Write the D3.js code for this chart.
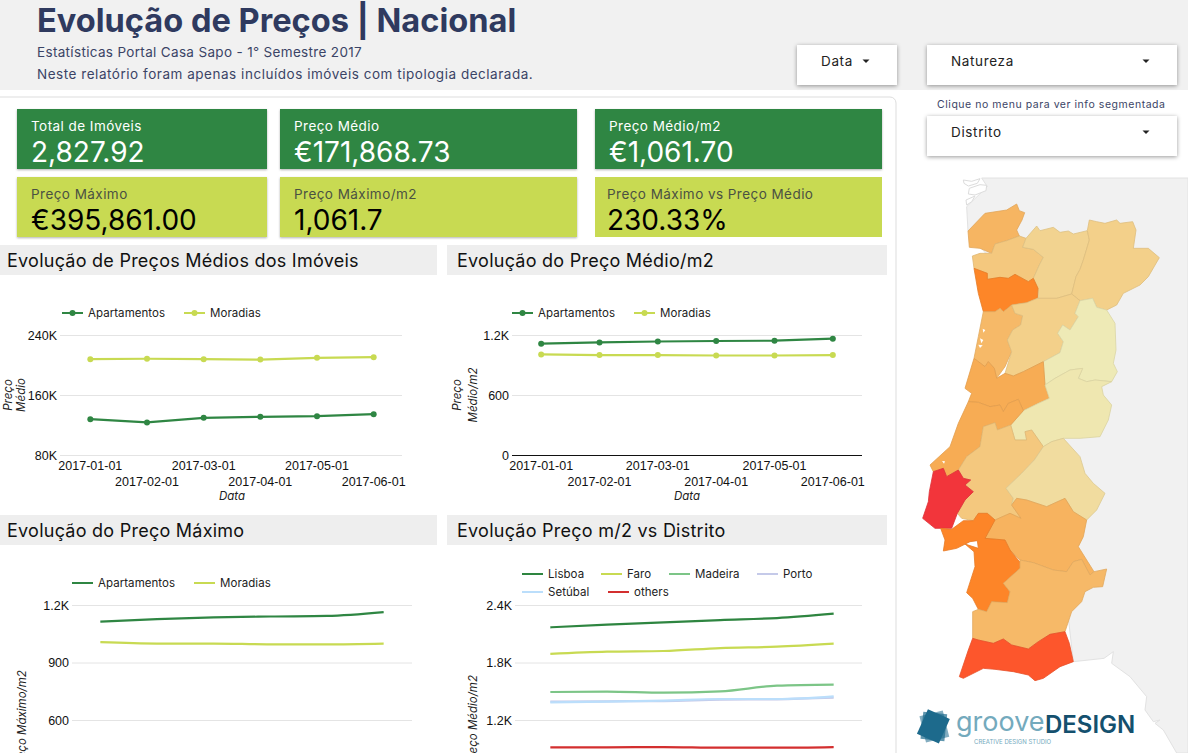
<!DOCTYPE html>
<html>
<head>
<meta charset="utf-8">
<script src="https://cdnjs.cloudflare.com/ajax/libs/d3/7.8.5/d3.min.js"></script>
<style>
  html, body { margin: 0; padding: 0; background: #fff; overflow: hidden; }
  svg { display: block; font-family: Inter, "Open Sans", sans-serif; }
  .tick line { stroke: #e4e4e4; }
  .tick text { font-size: 12.5px; fill: #111; }
  .legend text { font-size: 11.5px; letter-spacing: .05px; fill: #222; }
  .axis-title { font-size: 11.5px; font-style: italic; fill: #222; }
</style>
</head>
<body>
<script>
const width = 1188;
const height = 753;

const green = "#2f8643";
const lime = "#c8da52";

// chart data
const months = ["2017-01-01", "2017-02-01", "2017-03-01", "2017-04-01", "2017-05-01", "2017-06-01"];
const avgPriceApartments = [127800, 123400, 129600, 130900, 131800, 134500];
const avgPriceHouses = [207800, 208300, 207800, 207200, 209600, 210500];
const avgM2Apartments = [1113, 1126, 1135, 1140, 1143, 1163];
const avgM2Houses = [1006, 999, 999, 995, 995, 999];
const maxApartments = [1113, 1126, 1135, 1140, 1143, 1163];
const maxHouses = [1006, 999, 999, 995, 995, 999];
const lisboa = [2167, 2195, 2219, 2243, 2264, 2310];
const faro = [1889, 1913, 1920, 1951, 1965, 1997];
const madeira = [1492, 1496, 1485, 1499, 1558, 1569];
const porto = [1391, 1395, 1398, 1412, 1416, 1433];
const setubal = [1384, 1391, 1402, 1419, 1419, 1447];
const others = [915, 915, 918, 911, 911, 918];

// kpi cards
const kpiLabels = ["Total de Imóveis", "Preço Médio", "Preço Médio/m2", "Preço Máximo", "Preço Máximo/m2", "Preço Máximo vs Preço Médio"];
const kpiValues = ["2,827.92", "€171,868.73", "€1,061.70", "€395,861.00", "1,061.7", "230.33%"];

// district outlines, traced in map units (3 units = 1 screen pixel)
const districtNames = ["Viana do Castelo", "Braga", "Vila Real", "Bragança", "Porto", "Aveiro", "Viseu", "Guarda", "Coimbra", "Castelo Branco", "Leiria", "Santarém", "Portalegre", "Lisboa", "Évora", "Setúbal", "Beja", "Faro"];
const districtPrices = [995, 860, 770, 800, 1430, 965, 800, 570, 1065, 600, 1065, 860, 690, 2270, 1010, 1440, 965, 1990];
const districtOutlines = [
  [[204,183],[255,130],[320,120],[350,102],[358,122],[374,128],[366,150],[350,180],[358,198],[320,212],[285,222],[275,250],[240,235],[208,232]],
  [[217,258],[240,250],[275,250],[285,222],[320,212],[358,198],[378,205],[368,232],[400,238],[430,262],[418,285],[400,325],[385,335],[345,313],[325,325],[300,322],[262,328],[262,310],[222,295]],
  [[378,205],[410,168],[420,182],[460,172],[480,187],[505,183],[520,192],[562,182],[568,210],[550,270],[540,298],[528,320],[515,372],[470,385],[415,385],[414,355],[400,325],[418,285],[430,262],[400,238],[368,232]],
  [[562,182],[568,150],[590,155],[615,160],[650,150],[660,160],[698,155],[708,180],[700,235],[745,235],[778,263],[745,320],[720,345],[670,370],[650,405],[620,420],[590,412],[578,385],[540,392],[515,372],[528,320],[540,298],[550,270],[568,210]],
  [[222,295],[262,310],[262,328],[300,322],[325,325],[345,313],[385,335],[400,325],[414,355],[412,385],[380,398],[335,405],[310,425],[300,415],[285,425],[250,425],[235,370]],
  [[250,425],[285,425],[300,415],[310,425],[335,405],[345,430],[368,437],[362,465],[338,480],[322,510],[335,545],[315,590],[290,625],[283,595],[265,575],[255,590],[222,565],[235,500]],
  [[335,405],[380,398],[412,385],[470,385],[515,372],[540,392],[525,430],[535,440],[510,480],[488,465],[473,490],[490,515],[480,548],[430,575],[370,605],[340,618],[315,610],[335,545],[322,510],[338,480],[362,465],[368,437],[345,430]],
  [[540,392],[578,385],[590,412],[620,420],[645,460],[648,540],[640,580],[652,605],[635,635],[585,630],[560,635],[535,625],[548,595],[510,600],[465,625],[435,645],[430,575],[480,548],[490,515],[473,490],[488,465],[510,480],[535,440],[525,430]],
  [[222,565],[255,590],[265,575],[283,595],[290,625],[315,610],[340,618],[370,605],[430,575],[435,645],[448,685],[415,700],[370,722],[355,688],[325,700],[310,725],[300,705],[270,710],[235,697],[205,695],[215,670],[195,655]],
  [[435,645],[465,625],[510,600],[548,595],[535,625],[560,635],[585,630],[635,635],[605,650],[610,675],[635,705],[625,750],[600,800],[540,805],[490,805],[455,815],[430,830],[395,780],[375,785],[380,810],[345,810],[332,765],[370,722],[415,700],[448,685]],
  [[205,695],[235,697],[270,710],[300,705],[310,725],[325,700],[355,688],[370,722],[332,765],[292,780],[285,758],[250,770],[240,830],[200,860],[175,900],[140,920],[130,895],[100,905],[90,885],[150,830],[175,760]],
  [[175,900],[200,860],[240,830],[250,770],[285,758],[292,780],[332,765],[345,810],[380,810],[375,785],[395,780],[430,830],[403,870],[365,910],[318,955],[340,985],[335,1005],[363,1045],[330,1030],[285,1050],[262,1030],[235,1030],[220,1052],[185,1045],[172,1030],[195,990],[220,965],[195,945],[212,930],[190,925]],
  [[430,830],[455,815],[490,805],[540,860],[555,910],[580,940],[615,970],[590,1020],[560,1050],[520,1025],[495,985],[440,1010],[380,990],[350,985],[335,1005],[340,985],[318,955],[365,910],[403,870]],
  [[88,965],[100,905],[130,895],[140,920],[175,900],[190,925],[212,930],[195,945],[220,965],[195,990],[172,1030],[155,1075],[105,1075],[68,1045],[85,995]],
  [[285,1050],[330,1030],[363,1045],[335,1005],[350,985],[380,990],[440,1010],[495,985],[520,1025],[560,1050],[550,1100],[535,1130],[560,1170],[582,1205],[570,1215],[545,1168],[520,1175],[500,1205],[460,1200],[400,1178],[360,1170],[330,1140],[315,1110],[255,1105]],
  [[122,1075],[155,1078],[190,1052],[220,1052],[235,1030],[262,1030],[285,1050],[255,1105],[315,1110],[330,1140],[363,1180],[360,1195],[310,1240],[330,1265],[322,1298],[275,1295],[260,1325],[235,1318],[218,1285],[200,1268],[225,1190],[222,1145],[195,1122],[235,1135],[232,1112],[210,1115],[170,1135],[130,1143],[135,1110]],
  [[360,1170],[400,1178],[460,1200],[500,1205],[520,1175],[545,1168],[570,1215],[582,1205],[620,1197],[608,1250],[580,1252],[555,1265],[545,1295],[515,1325],[495,1385],[450,1393],[415,1415],[385,1437],[335,1425],[310,1407],[280,1420],[235,1410],[218,1405],[218,1325],[235,1318],[260,1325],[275,1295],[322,1298],[330,1265],[310,1240],[360,1195]],
  [[218,1405],[235,1410],[280,1420],[310,1407],[335,1425],[385,1437],[415,1415],[450,1393],[495,1385],[508,1420],[520,1475],[480,1490],[430,1525],[405,1532],[385,1515],[340,1505],[285,1498],[250,1495],[190,1525],[178,1520],[205,1440]]
];
const spainOutline = [[245,24],[864,24],[864,1749],[830,1749],[790,1680],[765,1660],[780,1650],[760,1655],[735,1620],[740,1580],[690,1520],[635,1480],[640,1445],[612,1465],[520,1475],[500,1300],[400,1000],[400,600],[300,300],[240,230],[204,183],[200,110],[262,50]];
const riaOutlines = [
  [[190,30],[215,34],[240,26],[232,40],[205,48],[192,40]],
  [[208,55],[240,44],[260,46],[258,62],[225,75],[205,72]],
  [[198,90],[225,78],[215,95],[200,105]]
];
const lagoonOutlines = [
  [[248,476],[256,480],[250,488]],
  [[240,505],[250,510],[244,520]],
  [[235,524],[248,526],[240,534]],
  [[126,873],[135,874],[132,881]]
];
const priceStops = [570, 800, 1100, 1430, 1990, 2270];
const priceColors = ["#eeeab6", "#f3d08a", "#f8a74d", "#fd8628", "#fd562c", "#f2353b"];

const svg = d3.select("body").append("svg")
  .attr("width", width)
  .attr("height", height);

// header
svg.append("rect").attr("width", width).attr("height", 90).attr("fill", "#f1f1f1");
svg.append("text").attr("x", 37).attr("y", 32)
  .attr("font-size", 32.6).attr("font-weight", 700).attr("fill", "#2f3a5f")
  .text("Evolução de Preços | Nacional");
svg.append("text").attr("x", 37).attr("y", 57).attr("font-size", 13.5).attr("letter-spacing", 0.33).attr("fill", "#3b4466")
  .text("Estatísticas Portal Casa Sapo - 1° Semestre 2017");
svg.append("text").attr("x", 37).attr("y", 79).attr("font-size", 13.5).attr("letter-spacing", 0.53).attr("fill", "#3b4466")
  .text("Neste relatório foram apenas incluídos imóveis com tipologia declarada.");

// panel behind the cards and charts
svg.append("rect").attr("x", -8).attr("y", 97).attr("width", 904).attr("height", 700).attr("rx", 6)
  .attr("fill", "#fff").attr("stroke", "#ddd");

// dropdowns
function dropdown(x, y, w, label, textX, caretX) {
  svg.append("rect").attr("x", x).attr("y", y).attr("width", w).attr("height", 40)
    .attr("fill", "#fff").style("filter", "drop-shadow(0 1px 2px rgba(0,0,0,.4))");
  svg.append("text").attr("x", textX).attr("y", y + 21).attr("font-size", 13.5).attr("letter-spacing", 0.65)
    .attr("fill", "#222").text(label);
  svg.append("path").attr("d", `M${caretX - 3.5},${y + 14.5}h7l-3.5,3.5z`).attr("fill", "#222");
}
dropdown(797, 45, 100, "Data", 821, 866);
dropdown(927, 45, 250, "Natureza", 951, 1146);
dropdown(927, 116, 250, "Distrito", 951, 1146);
svg.append("text").attr("x", 937).attr("y", 108).attr("font-size", 10.5).attr("letter-spacing", 0.54).attr("fill", "#3b4466")
  .text("Clique no menu para ver info segmentada");

// kpi cards
const cardX = [17, 280, 595, 17, 280, 595];
const cardW = [250, 297, 287, 250, 297, 287];
const cardY = [109, 109, 109, 177, 177, 177];
const cardTextX = [31, 294, 609, 31, 294, 607];
kpiLabels.forEach((label, i) => {
  const dark = i < 3;
  svg.append("rect").attr("x", cardX[i]).attr("y", cardY[i]).attr("width", cardW[i]).attr("height", 60)
    .attr("fill", dark ? green : lime).style("filter", i === 5 ? null : "drop-shadow(0 1px 1px rgba(0,0,0,.3))");
  svg.append("text").attr("x", cardTextX[i]).attr("y", cardY[i] + 22).attr("font-size", 13.5).attr("letter-spacing", 0.45)
    .attr("fill", dark ? "#fff" : "#4b5142").text(label);
  svg.append("text").attr("x", cardTextX[i]).attr("y", cardY[i] + 53).attr("font-size", 28)
    .attr("fill", dark ? "#fff" : "#000").text(kpiValues[i]);
});

// section titles
function sectionTitle(x, y, w, label, textX) {
  svg.append("rect").attr("x", x).attr("y", y).attr("width", w).attr("height", 30).attr("fill", "#eeeeee");
  svg.append("text").attr("x", textX).attr("y", y + 22).attr("font-size", 18).attr("letter-spacing", 0.25)
    .attr("fill", "#111").text(label);
}
sectionTitle(0, 245, 437, "Evolução de Preços Médios dos Imóveis", 7);
sectionTitle(447, 245, 440, "Evolução do Preço Médio/m2", 457);
sectionTitle(0, 515, 437, "Evolução do Preço Máximo", 7);
sectionTitle(447, 515, 440, "Evolução Preço m/2 vs Distrito", 457);

function fmt(d) {
  return d >= 1000 ? d / 1000 + "K" : String(d);
}

function lineChart(o) {
  const g = svg.append("g");
  const x = d3.scaleBand().domain(months).range(o.xRange);
  const y = d3.scaleLinear().domain(o.yDomain).range(o.yRange);

  const yAxis = g.append("g").attr("transform", `translate(${o.gridLeft},0)`)
    .call(d3.axisLeft(y).tickValues(o.ticks).tickSize(-(o.xRange[1] - o.gridLeft)).tickPadding(3).tickFormat(fmt));
  yAxis.select(".domain").remove();
  if (o.zeroLine) yAxis.selectAll(".tick line").filter(d => d === 0).style("stroke", "#111");

  if (o.showDates) {
    const xAxis = g.append("g").attr("transform", `translate(0,${o.yRange[0]})`)
      .call(d3.axisBottom(x).tickSize(0).tickPadding(15));
    xAxis.select(".domain").remove();
    xAxis.selectAll(".tick text").attr("dy", (d, i) => i % 2 ? 15.5 : 0);
    g.append("text").attr("class", "axis-title").attr("text-anchor", "middle")
      .attr("x", (o.xRange[0] + o.xRange[1]) / 2).attr("y", o.yRange[0] + 45).text("Data");
  }

  const line = d3.line()
    .x((d, i) => x(months[i]) + x.bandwidth() / 2)
    .y(d => y(d))
    .curve(o.smooth ? d3.curveMonotoneX : d3.curveLinear);

  o.series.forEach(s => {
    g.append("path").attr("d", line(s.values)).attr("fill", "none")
      .attr("stroke", s.color).attr("stroke-width", 2.2);
    if (o.dots) {
      g.selectAll(null).data(s.values).enter().append("circle")
        .attr("cx", (d, i) => x(months[i]) + x.bandwidth() / 2)
        .attr("cy", d => y(d))
        .attr("r", 3).attr("fill", s.color);
    }
    const lg = g.append("g").attr("class", "legend");
    lg.append("line").attr("x1", s.legend[0]).attr("x2", s.legend[0] + 21)
      .attr("y1", s.legend[1]).attr("y2", s.legend[1])
      .attr("stroke", s.color).attr("stroke-width", 2);
    if (o.dots) {
      lg.append("circle").attr("cx", s.legend[0] + 10.5).attr("cy", s.legend[1]).attr("r", 3).attr("fill", s.color);
    }
    lg.append("text").attr("x", s.legend[0] + 26).attr("y", s.legend[1] + 4).text(s.name);
  });

  o.yTitle.forEach(t => {
    g.append("text").attr("class", "axis-title").attr("text-anchor", "middle")
      .attr("transform", `translate(${t.x},${o.yTitleY}) rotate(-90)`).text(t.text);
  });
}

lineChart({
  xRange: [62, 402], gridLeft: 60, yRange: [455, 335], yDomain: [80000, 240000],
  ticks: [80000, 160000, 240000], dots: true, showDates: true, yTitleY: 395,
  yTitle: [{ x: 11.5, text: "Preço" }, { x: 25, text: "Médio" }],
  series: [
    { name: "Apartamentos", values: avgPriceApartments, color: green, legend: [62, 313] },
    { name: "Moradias", values: avgPriceHouses, color: lime, legend: [184, 313] }
  ]
});

lineChart({
  xRange: [512, 862], gridLeft: 512, yRange: [455, 335], yDomain: [0, 1200],
  ticks: [0, 600, 1200], dots: true, showDates: true, zeroLine: true, yTitleY: 395,
  yTitle: [{ x: 461, text: "Preço" }, { x: 477, text: "Médio/m2" }],
  series: [
    { name: "Apartamentos", values: avgM2Apartments, color: green, legend: [512, 313] },
    { name: "Moradias", values: avgM2Houses, color: lime, legend: [634, 313] }
  ]
});

lineChart({
  xRange: [72, 412], gridLeft: 72, yRange: [835, 605], yDomain: [0, 1200],
  ticks: [600, 900, 1200], smooth: true, yTitleY: 720,
  yTitle: [{ x: 26, text: "Preço Máximo/m2" }],
  series: [
    { name: "Apartamentos", values: maxApartments, color: green, legend: [72, 583] },
    { name: "Moradias", values: maxHouses, color: lime, legend: [194, 583] }
  ]
});

lineChart({
  xRange: [522, 862], gridLeft: 515, yRange: [835, 605], yDomain: [0, 2400],
  ticks: [1200, 1800, 2400], smooth: true, yTitleY: 720,
  yTitle: [{ x: 477, text: "Preço Médio/m2" }],
  series: [
    { name: "Lisboa", values: lisboa, color: "#2e8540", legend: [522, 574] },
    { name: "Faro", values: faro, color: lime, legend: [601, 574] },
    { name: "Madeira", values: madeira, color: "#7cc587", legend: [669, 574] },
    { name: "Porto", values: porto, color: "#c5cae9", legend: [757, 574] },
    { name: "Setúbal", values: setubal, color: "#bbdefb", legend: [522, 592] },
    { name: "others", values: others, color: "#d32f2f", legend: [608, 592] }
  ]
});

// map
const projection = d3.geoIdentity().scale(1 / 3).translate([900, 170]);
const mapPath = d3.geoPath(projection);
const priceColor = d3.scaleLinear().domain(priceStops).range(priceColors);

function polygon(points) {
  return { type: "Polygon", coordinates: [points.concat([points[0]])] };
}

const map = svg.append("g");
map.append("path").attr("d", mapPath(polygon(spainOutline)))
  .attr("fill", "#f1f1f1").attr("stroke", "#e2e2e2");
map.selectAll("path.ria").data(riaOutlines).enter().append("path")
  .attr("class", "ria")
  .attr("d", d => mapPath(polygon(d)))
  .attr("fill", "#fff").attr("stroke", "#dcdcdc");
map.selectAll("path.district").data(districtOutlines).enter().append("path")
  .attr("class", "district")
  .attr("d", d => mapPath(polygon(d)))
  .attr("fill", (d, i) => priceColor(districtPrices[i]))
  .attr("stroke", (d, i) => d3.color(priceColor(districtPrices[i])).darker(0.25))
  .attr("stroke-width", 0.8)
  .attr("stroke-linejoin", "round")
  .append("title").text((d, i) => districtNames[i]);
map.selectAll("path.lagoon").data(lagoonOutlines).enter().append("path")
  .attr("class", "lagoon")
  .attr("d", d => mapPath(polygon(d)))
  .attr("fill", "#fff");

// logo
const logo = svg.append("g");
[[-14, 0.55], [6, 0.7], [24, 1]].forEach(([angle, opacity]) => {
  logo.append("rect").attr("x", -12).attr("y", -12).attr("width", 24).attr("height", 27)
    .attr("transform", `translate(934,725) rotate(${angle})`)
    .attr("fill", "#1d6a8c").attr("opacity", opacity);
});
logo.append("text").attr("x", 956).attr("y", 731).attr("font-size", 27).attr("fill", "#74aabd")
  .text("groove");
logo.append("text").attr("x", 1045).attr("y", 733).attr("font-size", 24).attr("font-weight", 600).attr("fill", "#14506e")
  .text("DESIGN");
logo.append("text").attr("x", 974).attr("y", 744).attr("font-size", 6).attr("fill", "#74aabd")
  .text("CREATIVE DESIGN STUDIO");
</script>
</body>
</html>
